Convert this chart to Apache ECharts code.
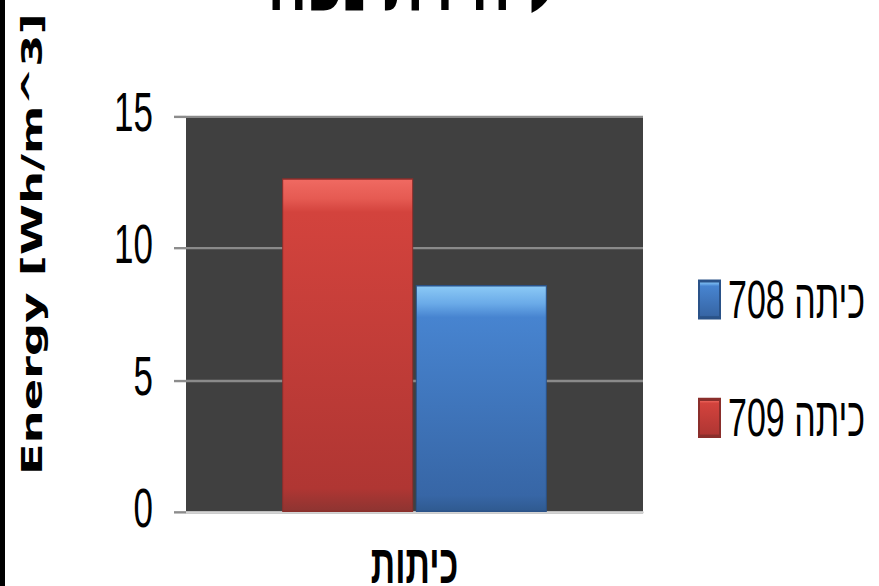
<!DOCTYPE html>
<html>
<head>
<meta charset="utf-8">
<script src="https://cdn.jsdelivr.net/npm/echarts@6/dist/echarts.min.js"></script>
<style>
html,body{margin:0;padding:0;background:#fff;overflow:hidden;width:879px;height:586px;}
#wrap{width:879px;height:366px;transform:scaleY(1.6011);transform-origin:0 0;}
</style>
</head>
<body>
<div id="wrap"></div>
<script>
const categories = ['כיתות'];
const seriesNames = ['כיתה 709', 'כיתה 708'];
const values709 = [12.64];
const values708 = [8.6];
const legendOrder = ['כיתה 708', 'כיתה 709'];
const yTicks = { min: 0, max: 15, interval: 5 };
const titleText = 'ליחידת נפח';
const yAxisTitle = 'Energy [Wh/m^3]';

const chart = echarts.init(document.getElementById('wrap'), null, { renderer: 'svg', width: 879, height: 366 });

const redFill = new echarts.graphic.LinearGradient(0, 0, 0, 1, [
  { offset: 0, color: '#f06a62' },
  { offset: 0.06, color: '#e55a52' },
  { offset: 0.1, color: '#d3433d' },
  { offset: 0.93, color: '#b03633' },
  { offset: 1, color: '#8e3431' }
]);
const blueFill = new echarts.graphic.LinearGradient(0, 0, 0, 1, [
  { offset: 0, color: '#8ccaf6' },
  { offset: 0.08, color: '#6aaae8' },
  { offset: 0.14, color: '#4784d0' },
  { offset: 0.93, color: '#3766a6' },
  { offset: 1, color: '#2f5a90' }
]);

chart.setOption({
  animation: false,
  backgroundColor: '#ffffff',
  textStyle: { fontFamily: 'Liberation Sans' },
  grid: {
    left: 186, right: 236, top: 72.4, bottom: 46.2,
    outerBoundsMode: 'none', containLabel: false,
    show: true, backgroundColor: '#404040', borderWidth: 0
  },
  legend: {
    orient: 'vertical',
    left: 693, top: 165,
    data: legendOrder,
    itemWidth: 21, itemHeight: 23, itemGap: 40,
    icon: 'rect',
    textStyle: { fontSize: 34, color: '#000', lineHeight: 30, padding: [0, 0, 0, 3], fontFamily: 'Liberation Sans' }
  },
  xAxis: {
    type: 'category',
    data: categories,
    axisLine: { show: true, lineStyle: { color: '#d4d4d4', width: 1.5 } },
    axisTick: { show: false },
    axisLabel: { fontSize: 34, lineHeight: 26, fontWeight: 'bold', color: '#000', margin: 20, fontFamily: 'Liberation Sans' }
  },
  yAxis: {
    type: 'value',
    min: yTicks.min, max: yTicks.max, interval: yTicks.interval,
    axisLine: { show: false },
    axisTick: { show: true, length: 12, lineStyle: { color: '#8c8c8c', width: 1.5 } },
    axisLabel: { fontSize: 35, lineHeight: 5, verticalAlign: 'bottom', color: '#000', margin: 33, fontFamily: 'Liberation Sans Narrow, Liberation Sans' },
    splitLine: { show: true, lineStyle: { color: '#8a8a8a', width: 1.5 } }
  },
  series: [
    {
      name: seriesNames[0], type: 'bar', data: values709,
      barWidth: 131, barGap: '2%',
      itemStyle: { color: redFill, borderColor: '#8a2e2b', borderWidth: 1 }
    },
    {
      name: seriesNames[1], type: 'bar', data: values708,
      barWidth: 131,
      itemStyle: { color: blueFill, borderColor: '#2a5288', borderWidth: 1 }
    }
  ],
  graphic: [
    { type: 'rect', left: 0, top: 0, shape: { width: 5, height: 366 }, style: { fill: '#000' } },
    {
      type: 'text', x: 32, y: 152.5, rotation: Math.PI / 2,
      style: { text: yAxisTitle, fontSize: 29, fontWeight: 'bold', fontFamily: 'DejaVu Sans', fill: '#000', align: 'center', verticalAlign: 'middle' }
    },
    {
      type: 'text', x: 413, y: -13,
      style: { text: titleText, fontSize: 56, fontWeight: 'bold', fontFamily: 'Liberation Sans', fill: '#000', align: 'center', verticalAlign: 'middle' }
    }
  ]
});
</script>
</body>
</html>
